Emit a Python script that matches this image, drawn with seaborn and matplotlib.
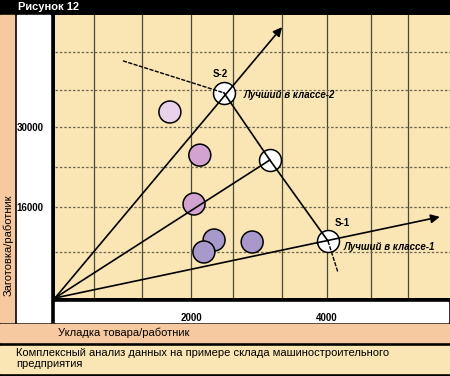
import numpy as np
import pandas as pd
import seaborn as sns
import matplotlib.pyplot as plt
from matplotlib.patches import Rectangle

# datos de la figura
pts_x = [1690, 2130, 2045, 2340, 2190, 2900]
pts_y = [32550, 25000, 16450, 10150, 8050, 9800]
pts_grupo = ['claro', 'medio', 'medio', 'oscuro', 'oscuro', 'oscuro']

mejores_x = [2485, 3160, 4015]
mejores_y = [35900, 24150, 9975]

# rayos desde el origen (el primero y el ultimo con flecha)
rayo_fin_x = [3340, 3160, 5660]
rayo_fin_y = [47400, 24150, 14200]
rayo_flecha = [True, False, True]

frontera_x = [1000, 2485, 3160, 4015, 4160]
frontera_y = [41500, 35900, 24150, 9975, 4550]

grid_x = [575, 1280, 2000, 2620, 3340, 4000, 4650, 5190]
grid_y = [8000, 16000, 23000, 30000, 36400, 43000]
xticks = [2000, 4000]
yticks = [16000, 30000]

titulo = 'Рисунок 12'
ylabel = 'Заготовка/работник'
xlabel = 'Укладка товара/работник'
pie = 'Комплексный анализ данных на примере склада машиностроительного\nпредприятия'

amarillo = '#F9E6B4'
salmon = '#F7C9A0'
colores = {'claro': '#EAD2EA', 'medio': '#D2A2D0', 'oscuro': '#A998CC'}

plt.rcParams['font.family'] = ['Liberation Sans', 'DejaVu Sans']

W, H = 450, 376
fig = plt.figure(figsize=(W / 100, H / 100), dpi=100, facecolor='black')


def caja(x0, y0, x1, y1, color):
    # rectangulo en pixeles (y desde arriba)
    fig.add_artist(Rectangle((x0 / W, 1 - y1 / H), (x1 - x0) / W, (y1 - y0) / H,
                             transform=fig.transFigure, color=color, zorder=0))


caja(0, 15, 14, 322, salmon)
caja(17, 15, 50, 322, 'white')
caja(55, 302, 448, 322, 'white')
caja(0, 324, 450, 342, salmon)
caja(0, 346, 450, 373, amarillo)

fig.text(18 / W, 1 - 7.5 / H, titulo, color='white', fontsize=8, fontweight='bold', va='center')
fig.text(8 / W, 1 - 245 / H, ylabel, rotation=90, fontsize=8, va='center', ha='center')
fig.text(58 / W, 1 - 333 / H, xlabel, fontsize=8, va='center')
fig.text(16 / W, 1 - 358.5 / H, pie, fontsize=8, va='center', linespacing=1.05)

ax = fig.add_axes([55 / W, 1 - 298 / H, (W - 55) / W, (298 - 15) / H])
ax.set_facecolor(amarillo)
ax.set_xlim(0, 5810)
ax.set_ylim(0, 49525)
for s in ax.spines.values():
    s.set_visible(False)

for gx in grid_x:
    ax.axvline(gx, color='#4d473a', lw=0.9, zorder=1)
for gy in grid_y:
    ax.axhline(gy, color='#6e6550', lw=0.9, ls=(0, (2, 1.5)), zorder=1)

df = pd.DataFrame({'x': pts_x, 'y': pts_y, 'grupo': pts_grupo})
sns.scatterplot(data=df, x='x', y='y', hue='grupo', palette=colores, s=250,
                edgecolor='black', linewidth=1.1, legend=False, ax=ax, zorder=2)
sns.scatterplot(x=mejores_x, y=mejores_y, color='white', s=250,
                edgecolor='black', linewidth=1.1, legend=False, ax=ax, zorder=2)

for fx, fy, flecha in zip(rayo_fin_x, rayo_fin_y, rayo_flecha):
    if flecha:
        ax.annotate('', xy=(fx, fy), xytext=(0, 0),
                    arrowprops=dict(arrowstyle='-|>', lw=1.2, color='black', mutation_scale=13,
                                    shrinkA=0, shrinkB=0), zorder=3, annotation_clip=False)
    else:
        ax.plot([0, fx], [0, fy], color='black', lw=1.2, zorder=3, clip_on=False)

ax.plot(frontera_x[:2], frontera_y[:2], color='black', lw=1.0, ls=(0, (3, 1)), zorder=3)
ax.plot(frontera_x[1:4], frontera_y[1:4], color='black', lw=1.2, zorder=3)
ax.plot(frontera_x[3:], frontera_y[3:], color='black', lw=1.0, ls=(0, (3, 1)), zorder=3)

ax.annotate('S-2', (mejores_x[0], mejores_y[0]), xytext=(-4, 19), textcoords='offset pixels',
            ha='center', va='center', fontsize=7, fontweight='bold')
ax.annotate('Лучший в классе-2', (mejores_x[0], mejores_y[0]), xytext=(20, -2),
            textcoords='offset pixels', ha='left', va='center', fontsize=7,
            fontweight='bold', fontstyle='italic')
ax.annotate('S-1', (mejores_x[2], mejores_y[2]), xytext=(14, 18), textcoords='offset pixels',
            ha='center', va='center', fontsize=7, fontweight='bold')
ax.annotate('Лучший в классе-1', (mejores_x[2], mejores_y[2]), xytext=(16, -6),
            textcoords='offset pixels', ha='left', va='center', fontsize=7,
            fontweight='bold', fontstyle='italic')

ax.set_xticks(xticks)
ax.set_xticklabels([str(v) for v in xticks], fontsize=7, fontweight='bold')
ax.set_yticks(yticks)
ax.set_yticklabels([str(v) for v in yticks], fontsize=7, fontweight='bold', ha='left')
ax.tick_params(axis='x', length=0, pad=11)
ax.tick_params(axis='y', length=0, pad=27.5)
ax.set_xlabel('')
ax.set_ylabel('')

fig.savefig('out.png', dpi=100, facecolor='black')
